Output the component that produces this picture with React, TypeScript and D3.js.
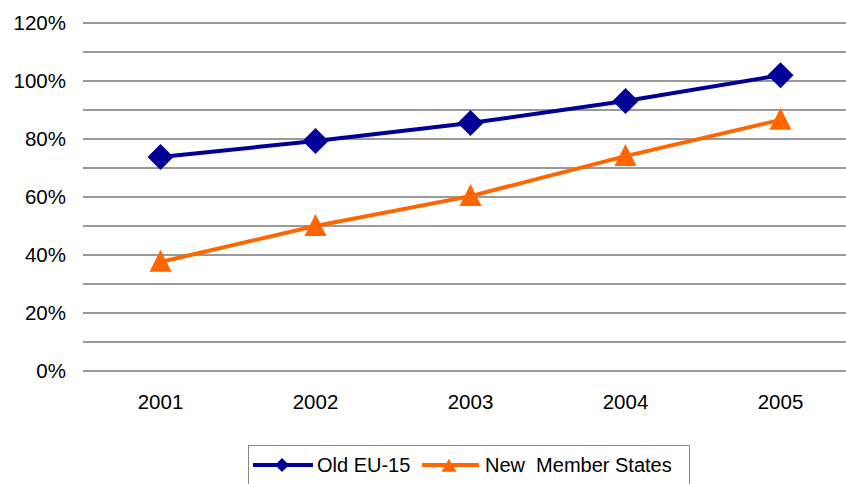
import React from "react";
import * as d3 from "d3";

const years = ["2001", "2002", "2003", "2004", "2005"];
const oldEU = [73.8, 79.3, 85.5, 93.1, 102.0];
const newMS = [37.6, 50.0, 60.3, 74.1, 86.6];
const yTicks = [0, 20, 40, 60, 80, 100, 120];
const gridTicks = [0, 10, 20, 30, 40, 50, 60, 70, 80, 90, 100, 110, 120];
const seriesNames = ["Old EU-15", "New  Member States"];

export default function App() {
  const W = 846, H = 484;
  const x = d3.scaleBand().domain(years).range([83, 858]);
  const y = d3.scaleLinear().domain([0, 120]).range([371, 23]);
  const cx = (d: string) => (x(d) as number) + x.bandwidth() / 2;
  const line = d3.line<number>().x((_, i) => cx(years[i])).y((v) => y(v));
  const blue = "#000096";
  const orange = "#FF6600";
  const font = "Arial, 'Liberation Sans', sans-serif";
  const diamond = (px: number, py: number, r: number) =>
    `M${px},${py - r}L${px + r},${py}L${px},${py + r}L${px - r},${py}Z`;
  const tri = (px: number, py: number, w: number, h: number) =>
    `M${px},${py - h * 0.55}L${px + w / 2},${py + h * 0.45}L${px - w / 2},${py + h * 0.45}Z`;
  return (
    <svg width={W} height={H} style={{ position: "absolute", left: 0, top: 0 }}>
      <rect width={W} height={H} fill="#fff" />
      {gridTicks.map((t) => (
        <line key={t} x1={83} x2={858} y1={y(t)} y2={y(t)} stroke="#999" strokeWidth={2} />
      ))}
      {yTicks.map((t) => (
        <text key={t} x={66} y={y(t) + 7} textAnchor="end" fontFamily={font} fontSize={20.5} fill="#000">
          {t}%
        </text>
      ))}
      {years.map((yr) => (
        <text key={yr} x={cx(yr)} y={409} textAnchor="middle" fontFamily={font} fontSize={20.5} fill="#000">
          {yr}
        </text>
      ))}
      <path d={line(oldEU) || ""} fill="none" stroke={blue} strokeWidth={4} />
      {oldEU.map((v, i) => (
        <path key={i} d={diamond(cx(years[i]), y(v), 13)} fill={blue} />
      ))}
      <path d={line(newMS) || ""} fill="none" stroke={orange} strokeWidth={4} />
      {newMS.map((v, i) => (
        <path key={i} d={tri(cx(years[i]), y(v), 22, 22)} fill={orange} />
      ))}
      <g>
        <rect x={248.5} y={445.5} width={441} height={45} fill="#fff" stroke="#888" strokeWidth={1} />
        <line x1={253} x2={313} y1={465} y2={465} stroke={blue} strokeWidth={4} />
        <path d={diamond(282, 465, 7)} fill={blue} />
        <text x={317} y={472} fontFamily={font} fontSize={20} fill="#000">{seriesNames[0]}</text>
        <line x1={422} x2={479} y1={465} y2={465} stroke={orange} strokeWidth={4} />
        <path d={tri(449, 466, 15, 13)} fill={orange} />
        <text x={485} y={472} fontFamily={font} fontSize={20} fill="#000" style={{ whiteSpace: "pre" }}>
          {seriesNames[1]}
        </text>
      </g>
    </svg>
  );
}
